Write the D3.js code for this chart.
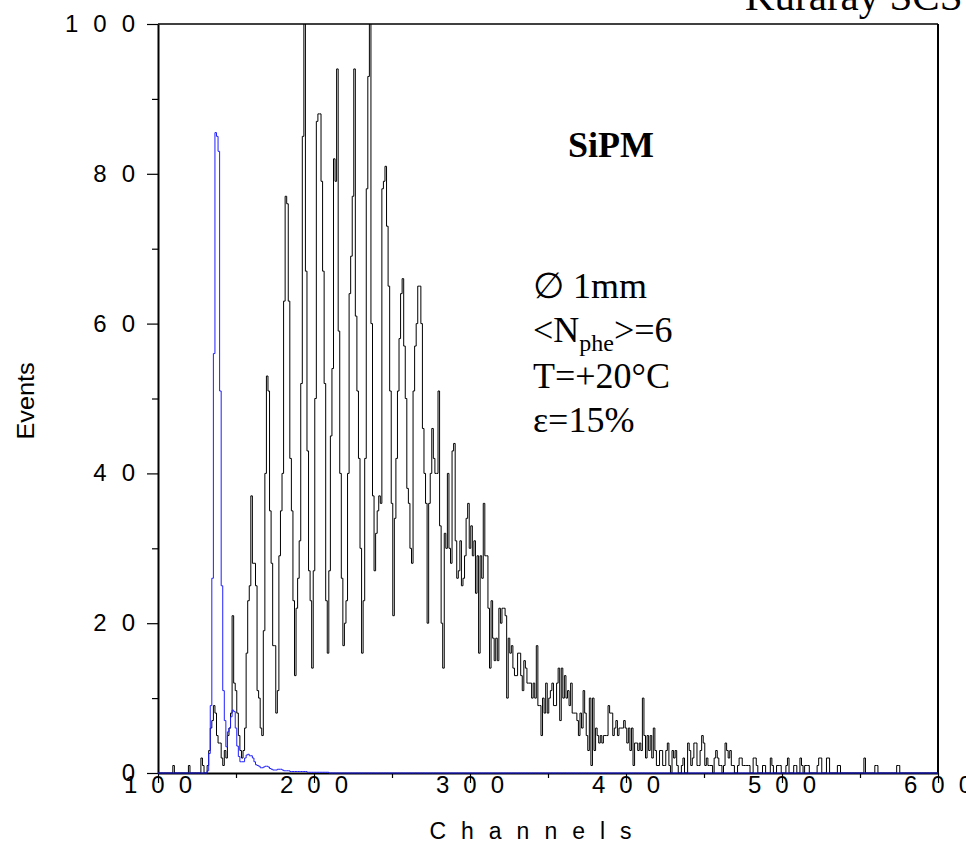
<!DOCTYPE html>
<html>
<head>
<meta charset="utf-8">
<script src="https://cdn.jsdelivr.net/npm/d3@7"></script>
<style>
  body { margin: 0; background: #fff; }
  svg { display: block; }
</style>
</head>
<body>
<div id="chart"></div>
<script>
// 通道起点（第一个计数对应的通道）
const startChannel = 100
const endChannel = 600

// 黑色：SiPM 光谱，每通道计数（100 ~ 600）
const sipmCounts = [
  0, 0, 0, 0, 0, 0, 0, 0, 0, 0,
  1, 0, 0, 0, 0, 0, 0, 0, 0, 0,
  1, 0, 0, 0, 0, 0, 0, 0, 2, 1,
  0, 0, 1, 3, 6, 7, 9, 8, 5, 4,
  4, 2, 1, 3, 2, 5, 6, 8, 21, 12,
  11, 8, 5, 3, 2, 3, 6, 16, 23, 25,
  37, 28, 28, 25, 11, 10, 6, 5, 19, 40,
  53, 51, 35, 28, 17, 17, 8, 11, 29, 35,
  40, 63, 77, 76, 63, 42, 35, 23, 13, 22,
  26, 31, 52, 85, 104, 67, 43, 27, 23, 14,
  27, 50, 87, 88, 88, 79, 67, 52, 23, 16,
  27, 45, 54, 82, 79, 94, 59, 40, 26, 17,
  20, 23, 40, 64, 69, 77, 94, 61, 51, 42,
  30, 16, 23, 42, 78, 93, 104, 60, 37, 27,
  32, 35, 37, 36, 78, 79, 81, 73, 65, 51,
  36, 21, 34, 42, 51, 58, 64, 66, 57, 50,
  38, 36, 30, 28, 51, 57, 60, 65, 65, 60,
  46, 40, 36, 20, 36, 40, 46, 42, 40, 40,
  51, 33, 20, 14, 32, 30, 40, 30, 28, 43,
  44, 31, 26, 27, 31, 25, 26, 29, 34, 36,
  30, 33, 29, 31, 24, 29, 16, 29, 26, 36,
  29, 29, 22, 14, 23, 18, 15, 18, 15, 22,
  20, 22, 22, 21, 10, 18, 16, 17, 14, 13,
  13, 16, 16, 13, 11, 15, 14, 12, 12, 12,
  10, 12, 10, 17, 9, 9, 5, 10, 8, 12,
  8, 10, 11, 12, 9, 9, 12, 14, 7, 14,
  10, 13, 10, 11, 9, 12, 8, 8, 8, 7,
  5, 8, 6, 11, 8, 5, 3, 10, 1, 10,
  3, 6, 5, 4, 5, 4, 5, 5, 5, 9,
  8, 8, 5, 6, 7, 5, 6, 6, 6, 7,
  6, 4, 6, 3, 6, 1, 4, 4, 3, 4,
  3, 10, 5, 2, 5, 3, 5, 2, 6, 3,
  1, 1, 3, 3, 1, 1, 3, 4, 1, 0,
  3, 2, 3, 1, 0, 0, 1, 2, 0, 0,
  4, 3, 1, 2, 4, 4, 1, 1, 3, 5,
  4, 1, 2, 1, 1, 1, 0, 2, 3, 2,
  1, 1, 0, 1, 4, 3, 2, 3, 1, 1,
  0, 0, 1, 2, 2, 1, 1, 1, 1, 1,
  0, 0, 2, 2, 1, 0, 0, 0, 1, 1,
  0, 0, 0, 2, 1, 0, 0, 1, 1, 1,
  0, 0, 0, 1, 2, 0, 0, 0, 1, 1,
  0, 0, 2, 1, 0, 1, 1, 1, 0, 0,
  0, 0, 0, 1, 2, 2, 0, 0, 0, 2,
  2, 0, 0, 0, 0, 0, 1, 1, 0, 0,
  0, 0, 0, 0, 0, 0, 0, 0, 0, 0,
  0, 0, 0, 2, 0, 0, 0, 0, 0, 0,
  1, 1, 0, 0, 0, 0, 0, 0, 0, 0,
  0, 0, 0, 0, 1, 1, 0, 0, 0, 0
]

// 蓝色：暗噪声/基线谱，每通道计数（从 100 开始，之后为 0）
const pedestalCounts = [
  0, 0, 0, 0, 0, 0, 0, 0, 0, 0,
  0, 0, 0, 0, 0, 0, 0, 0, 0, 0,
  0, 0, 0, 0, 0, 0, 0, 0, 0, 0,
  0, 0, 0.3, 2.6, 9, 26, 56, 85.5, 85, 83,
  51, 25, 11, 7, 3.5, 5.5, 6, 7.5, 8.4, 8.2,
  6, 3.6, 2.2, 1.5, 1.5, 1.5, 2, 2.4, 2.5, 2.3,
  2.3, 2, 1.5, 1.1, 1, 0.9, 0.7, 0.7, 0.8, 0.9,
  0.9, 0.8, 0.6, 0.5, 0.4, 0.4, 0.4, 0.5, 0.5, 0.5,
  0.4, 0.3, 0.3, 0.3, 0.3, 0.2, 0.2, 0.2, 0.2, 0.2,
  0.2, 0.2, 0.2, 0.2, 0.2, 0.2, 0.1, 0.1, 0.1, 0.1,
  0.1, 0.1, 0.1, 0.1, 0.1, 0.1, 0.1, 0.1, 0.1, 0.1
]

// 刻度
const xTicks = [100, 200, 300, 400, 500, 600]
const xMinorTicks = [150, 250, 350, 450, 550]
const yTicks = [0, 20, 40, 60, 80, 100]
const yMinorTicks = [10, 30, 50, 70, 90]

// 注释文字
const titleText = 'Kuraray SCS'
const detectorLabel = 'SiPM'
const infoLines = ['\u2205 1mm', 'N', 'T=+20°C', 'ε=15%']

const sansFont = '"Liberation Sans", Arial, Helvetica, sans-serif'
const serifFont = '"Liberation Serif", "Times New Roman", Times, serif'

const width = 966
const height = 861
const plotLeft = 158
const plotTop = 24
const plotRight = 938
const plotBottom = 773

const svg = d3.select('#chart')
  .append('svg')
  .attr('width', width)
  .attr('height', height)
  .style('background-color', '#ffffff')

const xScale = d3.scaleLinear().domain([startChannel, endChannel]).range([plotLeft, plotRight])
const yScale = d3.scaleLinear().domain([0, 100]).range([plotBottom, plotTop])

function toSeries(counts) {
  const out = []
  for (let ch = startChannel; ch <= endChannel; ch++) {
    const v = counts[ch - startChannel]
    out.push({ ch: ch, v: v === undefined ? 0 : v })
  }
  return out
}

svg.append('clipPath')
  .attr('id', 'clip-plot')
  .append('rect')
  .attr('x', plotLeft)
  .attr('y', plotTop)
  .attr('width', plotRight - plotLeft)
  .attr('height', plotBottom - plotTop + 1)

// 框线（上、右）
svg.append('line')
  .attr('x1', plotLeft).attr('x2', plotRight)
  .attr('y1', plotTop).attr('y2', plotTop)
  .style('stroke', '#000').style('stroke-width', 1.5)
svg.append('line')
  .attr('x1', plotRight).attr('x2', plotRight)
  .attr('y1', plotTop).attr('y2', plotBottom)
  .style('stroke', '#000').style('stroke-width', 2)

// y坐标轴
const yAxis = d3.axisLeft(yScale)
  .tickValues(yTicks)
  .tickSize(11)
  .tickSizeOuter(0)
  .tickFormat('')
const yAxisg = svg.append('g').classed('yAxis', true)
  .attr('transform', `translate(${plotLeft}, 0)`)
  .call(yAxis)
yAxisg.select('.domain').style('stroke-width', 2)
yAxisg.selectAll('.tick line').style('stroke-width', 1.2)

svg.append('g').classed('yMinor', true)
  .attr('transform', `translate(${plotLeft}, 0)`)
  .call(d3.axisLeft(yScale).tickValues(yMinorTicks).tickSize(6).tickSizeOuter(0).tickFormat(''))
  .call(g => g.select('.domain').remove())
  .selectAll('.tick line').style('stroke-width', 1.2)

svg.append('g').classed('yLabels', true)
  .selectAll('text')
  .data(yTicks)
  .enter()
  .append('text')
  .text(d => d)
  .attr('x', 150)
  .attr('y', d => yScale(d) + 8)
  .attr('text-anchor', 'end')
  .style('font-family', sansFont)
  .style('font-size', '24px')
  .style('letter-spacing', '15px')
  .style('fill', '#000')

// x坐标轴
const xAxis = d3.axisBottom(xScale)
  .tickValues(xTicks)
  .tickSize(10)
  .tickSizeOuter(0)
  .tickFormat('')
const xAxisg = svg.append('g').classed('xAxis', true)
  .attr('transform', `translate(0, ${plotBottom})`)
  .call(xAxis)
xAxisg.select('.domain').style('stroke-width', 2).style('stroke', '#000')
xAxisg.selectAll('.tick line').style('stroke-width', 1.2)

svg.append('g').classed('xMinor', true)
  .attr('transform', `translate(0, ${plotBottom})`)
  .call(d3.axisBottom(xScale).tickValues(xMinorTicks).tickSize(5).tickSizeOuter(0).tickFormat(''))
  .call(g => g.select('.domain').remove())
  .selectAll('.tick line').style('stroke-width', 1.2)

svg.append('g').classed('xLabels', true)
  .selectAll('text')
  .data(xTicks)
  .enter()
  .append('text')
  .text(d => d)
  .attr('x', d => xScale(d) + 7)
  .attr('y', 793)
  .attr('text-anchor', 'middle')
  .style('font-family', sansFont)
  .style('font-size', '24px')
  .style('letter-spacing', '14px')
  .style('fill', '#000')

// 轴标题
svg.append('text')
  .text('Channels')
  .attr('x', 538)
  .attr('y', 839)
  .attr('text-anchor', 'middle')
  .style('font-family', sansFont)
  .style('font-size', '23px')
  .style('letter-spacing', '15px')
  .style('fill', '#000')

svg.append('text')
  .text('Events')
  .attr('transform', 'translate(34, 401) rotate(-90)')
  .attr('text-anchor', 'middle')
  .attr('textLength', 77)
  .attr('lengthAdjust', 'spacingAndGlyphs')
  .style('font-family', sansFont)
  .style('font-size', '24px')
  .style('fill', '#000')

// 直方图
const line = d3.line()
  .x(d => xScale(d.ch))
  .y(d => yScale(d.v))
  .curve(d3.curveStep)

const plot = svg.append('g').attr('clip-path', 'url(#clip-plot)')

plot.append('path')
  .datum(toSeries(sipmCounts))
  .attr('d', line)
  .style('fill', 'none')
  .style('stroke', '#000')
  .style('stroke-width', 1)

plot.append('path')
  .datum(toSeries(pedestalCounts))
  .attr('d', line)
  .style('fill', 'none')
  .style('stroke', '#1f1fff')
  .style('stroke-width', 1)

// 注释
svg.append('text')
  .text(titleText)
  .attr('x', 745)
  .attr('y', 10)
  .style('font-family', serifFont)
  .style('font-size', '41px')
  .style('fill', '#000')

svg.append('text')
  .text(detectorLabel)
  .attr('x', 568)
  .attr('y', 157)
  .style('font-family', serifFont)
  .style('font-size', '36px')
  .style('font-weight', 'bold')
  .style('fill', '#000')

const info = svg.append('g').classed('info', true)
  .style('font-family', serifFont)
  .style('font-size', '36px')
  .style('fill', '#000')

info.append('text').attr('x', 533).attr('y', 298).text(infoLines[0])

const nLine = info.append('text').attr('x', 533).attr('y', 342)
nLine.append('tspan').text('<N')
nLine.append('tspan').text('phe').attr('dy', 9).style('font-size', '24px')
nLine.append('tspan').text('>=6').attr('dy', -9)

info.append('text').attr('x', 533).attr('y', 388).text(infoLines[2])
info.append('text').attr('x', 533).attr('y', 432).text(infoLines[3])
</script>
</body>
</html>
